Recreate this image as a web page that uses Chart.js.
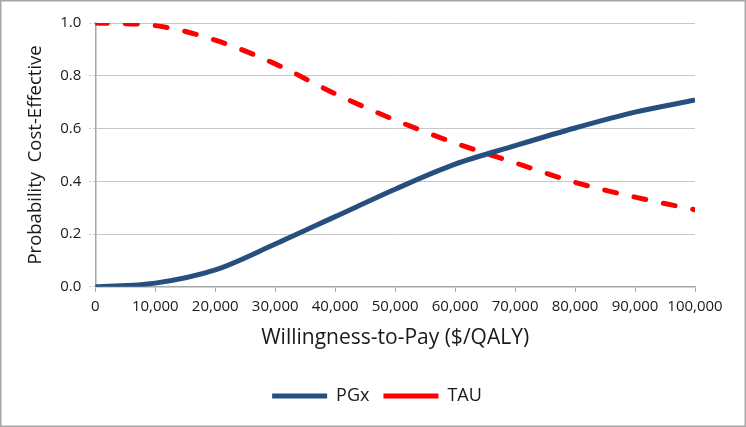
<!DOCTYPE html>
<html>
<head>
<meta charset="utf-8">
<script src="https://cdn.jsdelivr.net/npm/chart.js@4.4.1/dist/chart.umd.min.js"></script>
<style>
  html, body { margin: 0; padding: 0; background: #fff; }
  #wrap { width: 746px; height: 427px; position: relative; }
</style>
</head>
<body>
<div id="wrap"><canvas id="chart" width="746" height="427"></canvas></div>
<script>
// Willingness-to-pay thresholds ($/QALY)
const wtp = [0, 10000, 20000, 30000, 40000, 50000, 60000, 70000, 80000, 90000, 100000];

// Probability cost-effective
const pgx = [0.0, 0.014, 0.064, 0.162, 0.266, 0.370, 0.465, 0.535, 0.602, 0.662, 0.708];
const tau = [1.0, 0.99, 0.935, 0.845, 0.732, 0.632, 0.545, 0.470, 0.396, 0.340, 0.292];

const yTicks = [0, 0.2, 0.4, 0.6, 0.8, 1.0];

const FONT = "'Open Sans', Lato, sans-serif";
const TEXT = '#1a1a1a';

// Grey outline round the whole chart, like the spreadsheet frame
const framePlugin = {
  id: 'frame',
  afterLayout(chart) {
    // legend sits a bit right of the canvas centre in the original
    if (chart.legend) {
      chart.legend.left += 19;
      chart.legend.right += 19;
    }
  },
  afterDraw(chart) {
    const ctx = chart.ctx;
    ctx.save();
    ctx.strokeStyle = '#a6a6a6';
    ctx.lineWidth = 1.5;
    ctx.strokeRect(0.75, 0.75, chart.width - 1.5, chart.height - 1.5);
    ctx.restore();
  }
};

const toPoints = arr => arr.map((v, i) => ({ x: wtp[i], y: v }));

new Chart(document.getElementById('chart'), {
  type: 'line',
  data: {
    datasets: [
      {
        label: 'PGx',
        data: toPoints(pgx),
        borderColor: '#264f80',
        backgroundColor: '#264f80',
        borderWidth: 5,
        pointRadius: 0,
        cubicInterpolationMode: 'monotone'
      },
      {
        label: 'TAU',
        data: toPoints(tau),
        borderColor: '#ff0000',
        backgroundColor: '#ff0000',
        borderWidth: 5,
        borderDash: [12, 18],
        borderCapStyle: 'round',
        pointRadius: 0,
        cubicInterpolationMode: 'monotone'
      }
    ]
  },
  options: {
    responsive: false,
    animation: false,
    layout: { padding: { left: 21, right: 51, top: 23, bottom: 12 } },
    plugins: {
      legend: {
        position: 'bottom',
        labels: {
          usePointStyle: true,
          pointStyle: 'line',
          pointStyleWidth: 55,
          boxHeight: 10,
          padding: 14,
          color: TEXT,
          font: { family: FONT, size: 18 }
        }
      },
      tooltip: { enabled: false }
    },
    scales: {
      x: {
        type: 'linear',
        min: 0,
        max: 100000,
        ticks: {
          stepSize: 10000,
          color: TEXT,
          font: { family: FONT, size: 15 },
          maxRotation: 0,
          padding: 6,
          callback: v => v.toLocaleString('en-US')
        },
        grid: { drawOnChartArea: false, color: '#a6a6a6', tickLength: 5 },
        border: { color: '#a6a6a6', width: 1.5 },
        title: {
          display: true,
          text: 'Willingness-to-Pay ($/QALY)',
          color: TEXT,
          font: { family: FONT, size: 21 },
          padding: { top: 4, bottom: 22 }
        }
      },
      y: {
        min: 0,
        max: 1,
        afterBuildTicks: axis => { axis.ticks = yTicks.map(v => ({ value: v })); },
        ticks: {
          color: TEXT,
          font: { family: FONT, size: 15 },
          padding: 8,
          callback: v => v.toFixed(1)
        },
        grid: { color: '#c8c8c8', lineWidth: 1, tickLength: 6, borderDash: [2, 2], tickBorderDash: [2, 2] },
        border: { color: '#a6a6a6', width: 1.5 },
        title: {
          display: true,
          text: 'Probability  Cost-Effective',
          color: TEXT,
          font: { family: FONT, size: 18.5 },
          padding: { bottom: 5 }
        }
      }
    }
  },
  plugins: [framePlugin]
});
</script>
</body>
</html>
